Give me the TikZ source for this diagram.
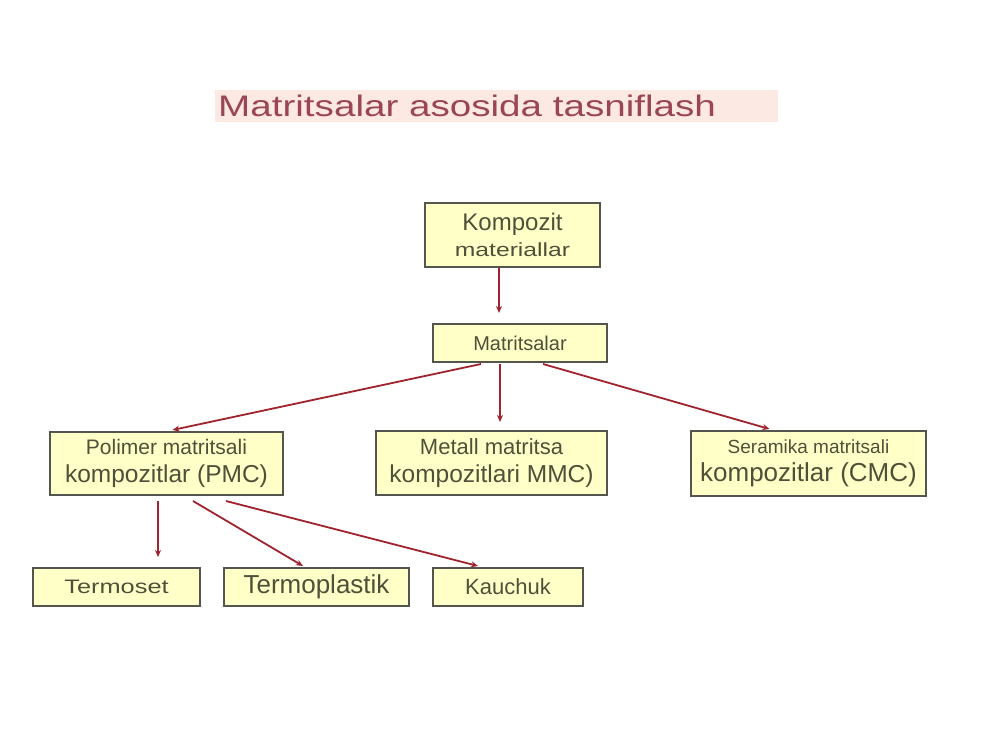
\documentclass[tikz,border=0pt]{standalone}
\usepackage{fontspec}
\setmainfont{Liberation Sans}
\newfontfamily\widefont[FakeStretch=1.3]{Liberation Sans}
\usetikzlibrary{arrows.meta}
\definecolor{boxfill}{RGB}{255,255,200}
\definecolor{boxline}{RGB}{85,85,80}
\definecolor{boxtext}{RGB}{80,80,58}
\definecolor{arrowred}{RGB}{160,35,45}
\definecolor{titlefill}{RGB}{253,233,228}
\definecolor{titletext}{RGB}{155,70,85}
\newcommand{\fs}[1]{\fontsize{#1}{#1}\selectfont}
\tikzset{
  box/.style={draw=boxline, line width=2pt, fill=boxfill, text=boxtext,
    inner sep=0pt, anchor=north west, align=center},
  arr/.style={draw=arrowred, line width=1.8pt, -{Stealth[length=7pt,width=6pt]}},
}
\begin{document}
\begin{tikzpicture}[x=1pt,y=-1pt]
\useasboundingbox[fill=white] (0,0) rectangle (1000,750);
% title
\node[fill=titlefill, minimum width=563pt, minimum height=32pt, anchor=north west, inner sep=0pt] (titleband) at (215,90) {};
\node[text=titletext, anchor=west, inner sep=0pt] (title) at (218,106) {\widefont\fs{29.7}Matritsalar asosida tasniflash};
% boxes
\node[box, minimum width=175pt, minimum height=64pt] (komp) at (424,202)
  {\fs{24}Kompozit\\[7pt]\widefont\fs{19}materiallar};
\node[box, minimum width=174pt, minimum height=38pt] (mat) at (432,323)
  {\fs{20}Matritsalar};
\node[box, minimum width=233pt, minimum height=63pt] (pol) at (49,431)
  {\fs{21}Polimer matritsali\\[9pt]\fs{24.5}kompozitlar (PMC)};
\node[box, minimum width=231pt, minimum height=64pt] (met) at (375,430)
  {\fs{22}Metall matritsa\\[9pt]\fs{24.5}kompozitlari MMC)};
\node[box, minimum width=235pt, minimum height=65pt] (ser) at (690,430)
  {\fs{19}Seramika matritsali\\[8pt]\fs{26}kompozitlar (CMC)};
\node[box, minimum width=167pt, minimum height=38pt] (tset) at (32,567)
  {\widefont\fs{19.5}Termoset};
\node[box, minimum width=185pt, minimum height=38pt] (tplast) at (223,567)
  {\fs{26}Termoplastik};
\node[box, minimum width=150pt, minimum height=38pt] (kau) at (432,567)
  {\fs{22}Kauchuk};
% connectors
\draw[arr] ([xshift=-13.5pt]komp.south) -- ([xshift=-21pt,yshift=10pt]mat.north);
\draw[arr] ([xshift=-39pt,yshift=-1pt]mat.south) -- ([xshift=6pt,yshift=1pt]pol.north);
\draw[arr] ([xshift=-20pt,yshift=-1pt]mat.south) -- ([xshift=8.5pt,yshift=8pt]met.north);
\draw[arr] ([xshift=23pt,yshift=-1pt]mat.south) -- ([xshift=-39pt,yshift=1pt]ser.north);
\draw[arr] ([xshift=-8.5pt,yshift=-5pt]pol.south) -- ([xshift=41.5pt,yshift=10pt]tset.north);
\draw[arr] ([xshift=26.5pt,yshift=-5pt]pol.south) -- ([xshift=-13.5pt,yshift=1pt]tplast.north);
\draw[arr] ([xshift=59.5pt,yshift=-5pt]pol.south) -- ([xshift=-30pt,yshift=1pt]kau.north);
\end{tikzpicture}
\end{document}
